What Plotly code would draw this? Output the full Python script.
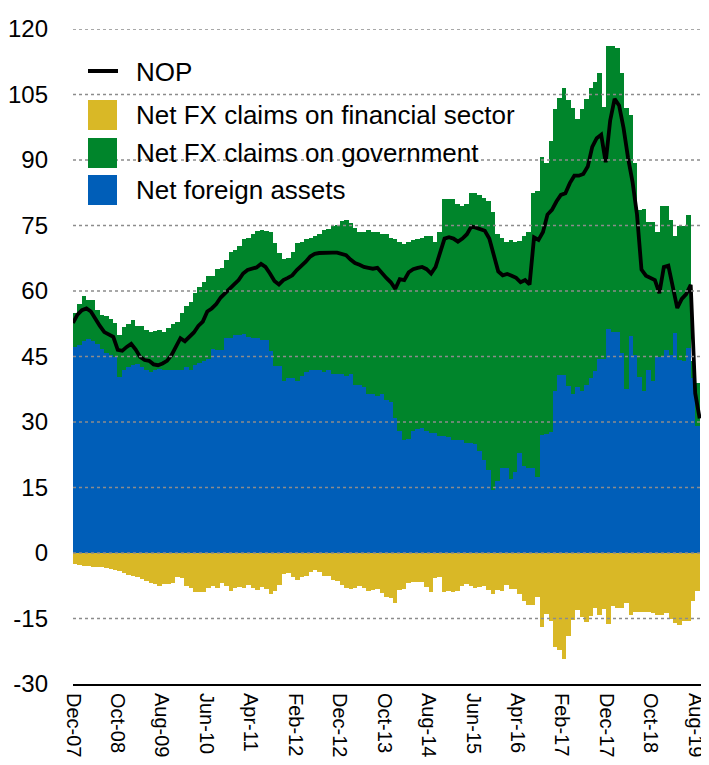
import pandas as pd
import plotly.graph_objects as go

# monthly observations, Dec-07 .. Aug-19
months = pd.date_range("2007-12-01", periods=141, freq="MS")
month_labels = [d.strftime("%b-%y") for d in months]

# Net foreign assets
nfa = [
    47.2, 47.7, 48.5, 49.0, 48.6, 47.9, 46.7, 45.8, 45.4, 44.9,
    40.3, 42.0, 42.7, 43.1, 43.3, 42.5, 42.0, 41.5, 41.8, 42.2,
    41.8, 42.0, 42.0, 41.9, 41.9, 42.5, 42.0, 43.0, 43.5, 44.0,
    44.5, 46.8, 46.5, 46.5, 49.2, 49.2, 49.9, 49.9, 50.2, 49.5,
    49.2, 49.2, 48.8, 48.8, 46.3, 42.9, 42.9, 39.5, 40.0, 40.0,
    39.5, 40.5, 41.5, 41.9, 41.9, 41.9, 41.5, 41.9, 41.0, 40.9,
    40.9, 40.5, 40.9, 38.5, 38.5, 38.0, 36.5, 36.5, 36.0, 36.5,
    35.0, 34.5, 31.0, 28.0, 25.8, 26.0, 28.0, 28.5, 28.7, 28.0,
    27.5, 27.5, 26.8, 26.8, 26.5, 25.8, 25.8, 25.8, 25.3, 25.3,
    25.0, 23.3, 21.4, 19.0, 14.5, 16.5, 19.4, 19.4, 17.0, 18.5,
    23.0, 20.0, 19.5, 19.4, 17.5, 27.1, 27.3, 27.7, 37.2, 40.8,
    40.8, 38.3, 36.4, 38.0, 37.2, 38.5, 40.0, 41.6, 44.4, 44.4,
    51.3, 50.7, 50.7, 45.8, 37.5, 49.6, 45.4, 40.4, 37.2, 42.0,
    39.3, 45.0, 45.0, 46.5, 45.4, 50.4, 44.3, 43.9, 46.9, 40.0,
    29.0,
]

# Net FX claims on government
gov = [
    7.8, 9.3, 10.4, 9.0, 9.4, 7.8, 7.9, 8.4, 8.2, 7.8,
    9.7, 9.8, 9.8, 10.2, 8.7, 9.5, 9.0, 9.2, 9.0, 8.8,
    8.7, 9.5, 10.5, 11.1, 13.1, 14.0, 15.5, 16.5, 17.5, 18.0,
    18.9, 16.7, 18.5, 18.8, 17.8, 19.8, 19.6, 20.3, 21.8, 22.7,
    23.8, 24.6, 25.2, 25.0, 27.2, 28.1, 25.9, 27.8, 27.5, 29.0,
    31.5, 30.7, 30.5, 30.3, 30.6, 31.1, 32.5, 32.2, 34.0, 34.2,
    35.1, 35.8, 34.6, 36.0, 35.1, 35.6, 37.5, 37.1, 37.5, 36.6,
    38.0, 37.7, 41.0, 43.2, 44.9, 45.2, 43.7, 43.5, 43.5, 44.7,
    45.2, 43.7, 46.8, 54.2, 54.5, 55.2, 54.2, 53.7, 54.7, 57.1,
    57.4, 58.6, 60.0, 61.5, 63.5, 56.5, 52.8, 51.8, 54.7, 52.7,
    48.5, 52.5, 54.0, 63.0, 65.3, 63.6, 62.0, 66.6, 64.5, 63.4,
    65.7, 65.5, 65.5, 61.4, 64.5, 65.5, 66.5, 66.2, 65.5, 57.7,
    64.7, 65.3, 64.9, 64.2, 64.5, 50.7, 43.9, 38.2, 41.6, 33.7,
    36.4, 28.4, 34.5, 33.0, 30.8, 22.3, 30.5, 30.9, 30.6, 4.0,
    10.0,
]

# Net FX claims on financial sector
fin = [
    -2.5, -2.7, -3.0, -3.0, -3.2, -3.3, -3.3, -3.5, -3.7, -4.0,
    -4.2, -4.5, -5.0, -5.2, -5.5, -6.0, -6.5, -6.8, -7.2, -7.5,
    -7.2, -7.0, -6.8, -5.5, -5.8, -7.6, -8.0, -9.0, -9.0, -9.0,
    -8.1, -7.5, -8.0, -6.8, -7.5, -8.6, -8.0, -7.7, -8.0, -7.4,
    -7.9, -8.4, -7.8, -8.3, -9.5, -8.7, -7.3, -4.8, -4.5, -5.4,
    -6.2, -5.5, -5.3, -4.3, -4.0, -4.3, -5.2, -5.3, -6.2, -6.3,
    -7.4, -8.1, -8.3, -8.1, -7.6, -8.1, -8.7, -8.5, -8.2, -9.1,
    -10.0, -10.2, -11.5, -8.5, -8.2, -6.9, -6.7, -6.7, -6.7, -7.7,
    -8.9, -5.7, -5.5, -9.0, -8.7, -9.0, -8.7, -7.5, -7.0, -7.6,
    -7.9, -7.7, -7.6, -8.5, -9.5, -8.5, -8.6, -7.3, -8.2, -8.2,
    -9.5, -11.0, -12.0, -11.8, -10.1, -17.0, -14.0, -15.6, -21.5, -22.3,
    -24.3, -19.0, -15.4, -13.1, -14.7, -15.9, -14.4, -12.6, -14.1, -12.8,
    -16.2, -12.2, -12.6, -12.5, -11.5, -14.1, -13.6, -13.6, -13.4, -13.4,
    -13.8, -14.1, -14.1, -13.8, -15.1, -16.0, -16.4, -15.6, -15.6, -11.1,
    -8.8,
]

# Net open position
nop = [
    52.7, 54.6, 55.6, 56.0, 55.3, 53.5, 52.0, 50.6, 50.1, 49.5,
    46.5, 46.3, 47.2, 47.9, 46.6, 44.9, 44.2, 44.0, 43.2, 43.0,
    43.4, 44.0, 45.3, 47.5, 49.2, 48.5, 49.5, 50.5, 52.0, 53.0,
    55.3, 56.0, 57.0, 58.5, 59.5, 60.4, 61.5, 62.5, 64.0, 64.8,
    65.1, 65.4, 66.2, 65.5, 64.0, 62.3, 61.5, 62.5, 63.0, 63.6,
    64.8, 65.7, 66.7, 67.9, 68.5, 68.7, 68.8, 68.8, 68.8, 68.8,
    68.6, 68.2, 67.2, 66.4, 66.0, 65.5, 65.3, 65.1, 65.3, 64.0,
    63.0, 62.0, 60.5, 62.7, 62.5, 64.3, 65.0, 65.3, 65.5, 65.0,
    64.0, 65.5, 68.5, 72.0, 72.3, 72.0, 71.3, 72.0, 73.0, 74.8,
    74.5, 74.2, 73.8, 72.0, 68.5, 64.5, 63.6, 63.9, 63.5, 63.0,
    62.0, 62.5, 61.5, 72.3, 71.7, 73.5, 77.5, 78.6, 80.5, 82.0,
    82.4, 84.7, 86.4, 86.4, 86.8, 88.5, 93.0, 95.0, 95.8, 89.5,
    99.0, 104.0, 102.5, 97.3, 90.5, 85.0, 77.5, 64.9, 63.5, 63.0,
    62.5, 59.5, 65.5, 65.8, 61.2, 56.1, 58.2, 59.3, 61.4, 36.6,
    30.8,
]

y_ticks = [120, 105, 90, 75, 60, 45, 30, 15, 0, -15, -30]
y_ticktext = ["120", "105", "90", "75", "60", "45", "30", "15", "0", "-15", "-30"]

FONT = "Liberation Sans, Arial, sans-serif"
BLUE = "#005EB8"
GREEN = "#00852B"
YELLOW = "#D9B826"
GRID = "#8C8C8C"

# the page puts the figure 8px in from the window corner; size it so the
# page never overflows (no scrollbars)
PAGE_PAD = 8
WIN_W, WIN_H = 709, 765
W, H = WIN_W - 2 * PAGE_PAD, WIN_H - 2 * PAGE_PAD
L, R, T, B = 73, WIN_W - PAGE_PAD, 29, 684   # plot area in window pixels


def px_x(px):
    return (px - L) / (R - L)


def px_y(py):
    return (B - py) / (B - T)


idx = list(range(len(month_labels)))
tick_idx = idx[::10]

fig = go.Figure()
fig.add_bar(x=idx, y=nfa, name="Net foreign assets", marker=dict(color=BLUE, line_width=0))
fig.add_bar(x=idx, y=gov, name="Net FX claims on government", marker=dict(color=GREEN, line_width=0))
fig.add_bar(x=idx, y=fin, name="Net FX claims on financial sector", marker=dict(color=YELLOW, line_width=0))
# NOP runs from the left edge of the first bar to the right edge of the last one
fig.add_scatter(x=idx, y=nop, name="NOP", mode="lines", xaxis="x2",
                line=dict(color="black", width=3.8))

n = len(idx)
x_lo, x_hi = -0.5, n - 0.2
fig.update_layout(
    width=W, height=H,
    margin=dict(l=L - PAGE_PAD, r=PAGE_PAD + W - R, t=T - PAGE_PAD, b=PAGE_PAD + H - B,
                pad=0, autoexpand=False),
    barmode="relative", bargap=0,
    plot_bgcolor="white", paper_bgcolor="white",
    showlegend=False,
    font=dict(family=FONT, color="black"),
    xaxis=dict(
        range=[x_lo, x_hi], automargin=False,
        tickvals=[i - 0.5 for i in tick_idx],
        ticktext=[month_labels[i] for i in tick_idx],
        tickangle=90, tickfont=dict(size=20, family=FONT),
        showgrid=False, zeroline=False, ticks="",
        showline=True, linecolor="black", linewidth=2,
        ticklabelstandoff=3, ticklabeloverflow="allow",
    ),
    xaxis2=dict(
        overlaying="x", visible=False,
        range=[0, (n - 1) * (x_hi - x_lo) / n],
    ),
    yaxis=dict(
        range=[-30, 120], automargin=False,
        tickvals=y_ticks, ticktext=y_ticktext,
        tickfont=dict(size=24, family=FONT),
        showgrid=False, zeroline=False, ticks="",
        ticklabelstandoff=24,
    ),
)

# dotted gridlines drawn over the bars
for v in y_ticks[:-1]:
    fig.add_shape(type="line", xref="paper", yref="y", x0=0, x1=1, y0=v, y1=v,
                  layer="above", line=dict(color=GRID, width=1.5, dash="dot"))

# legend, drawn by hand to get the large swatches
fig.add_shape(type="line", xref="paper", yref="paper",
              x0=px_x(88), x1=px_x(118), y0=px_y(71), y1=px_y(71),
              line=dict(color="black", width=4))
legend_rows = [
    ("NOP", None, 72),
    ("Net FX claims on financial sector", YELLOW, 115),
    ("Net FX claims on government", GREEN, 153),
    ("Net foreign assets", BLUE, 190),
]
for text, colour, yc in legend_rows:
    if colour is not None:
        fig.add_shape(type="rect", xref="paper", yref="paper",
                      x0=px_x(88), x1=px_x(117), y0=px_y(yc + 15), y1=px_y(yc - 15),
                      fillcolor=colour, line_width=0, layer="above")
    fig.add_annotation(text=text, xref="paper", yref="paper",
                       x=px_x(134), y=px_y(yc), xanchor="left", yanchor="middle",
                       showarrow=False, font=dict(size=26, family=FONT, color="black"))

fig.write_html("out.html")
